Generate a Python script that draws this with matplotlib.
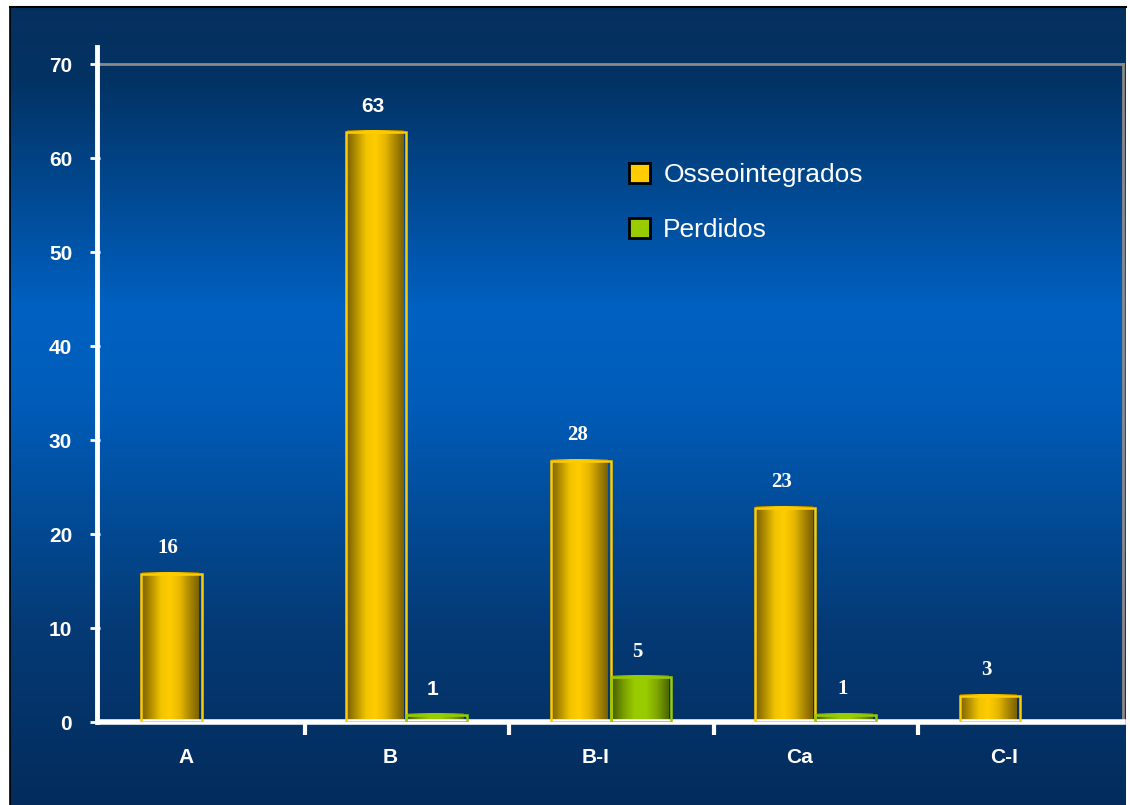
import numpy as np
import matplotlib.pyplot as plt
from matplotlib.colors import LinearSegmentedColormap
from matplotlib.patches import Rectangle, Patch

categories = ['A', 'B', 'B-I', 'Ca', 'C-I']
osseo = [16, 63, 28, 23, 3]
perdidos = [0, 1, 5, 1, 0]
labels = ['Osseointegrados', 'Perdidos']

W, H = 1130, 805
fig = plt.figure(figsize=(W / 100, H / 100), dpi=100)
fig.patch.set_facecolor('white')

# background panel with vertical blue gradient
bg = fig.add_axes([10 / W, 0, 1116 / W, 798 / H])
bg_cmap = LinearSegmentedColormap.from_list(
    'bg', [(0, '#06305e'), (0.09, '#033263'), (0.38, '#0061c2'),
           (0.5, '#005cb8'), (0.78, '#053a75'), (1, '#032c5c')])
bg.imshow(np.linspace(0, 1, 256).reshape(-1, 1), aspect='auto', cmap=bg_cmap,
          extent=[0, 1, 0, 1], origin='upper')
bg.set_xticks([])
bg.set_yticks([])
for s in ['right', 'bottom']:
    bg.spines[s].set_visible(False)
bg.spines['top'].set_color('black')
bg.spines['left'].set_color('black')
bg.spines['top'].set_linewidth(1.5)
bg.spines['left'].set_linewidth(1.2)

ax = fig.add_axes([100 / W, 83 / H, 1023 / W, 658 / H])
ax.set_facecolor('none')

gold = LinearSegmentedColormap.from_list(
    'gold', ['#7d6200', '#b89400', '#f2c400', '#ffcc00', '#e8b800', '#b08c00', '#7d6200'])
green = LinearSegmentedColormap.from_list(
    'green', ['#465f00', '#7a9f00', '#99cc00', '#99cc00', '#7fa600', '#4e6800'])
grad = np.linspace(0, 1, 64).reshape(1, -1)

x = np.arange(len(categories))
bw = 0.295      # slot for one bar (outline)
fill_w = 0.278  # visible cylinder body


def cylinders(xs, vals, cmap, edge):
    bars = ax.bar(xs, vals, fill_w, align='edge', facecolor='none', edgecolor='none')
    for b in bars:
        h = b.get_height()
        if h <= 0:
            continue
        x0 = b.get_x()
        im = ax.imshow(grad, aspect='auto', cmap=cmap,
                       extent=[x0, x0 + fill_w, 0, h], zorder=2)
        im.set_clip_path(b)
        ax.add_patch(Rectangle((x0 - 0.003, 0), bw, h - 0.25, fill=False,
                               edgecolor=edge, lw=1.8, zorder=3))
    return bars


cylinders(x - bw, osseo, gold, '#ffcc00')
cylinders(x, perdidos, green, '#99cc00')
ax.set_xlim(-0.5, len(categories) - 0.5)
ax.set_ylim(0, 70)

# value labels
for i, cat in enumerate(categories):
    fam = 'Liberation Sans' if cat == 'B' else 'Liberation Serif'
    if osseo[i] > 0:
        ax.text(x[i] - bw / 2 - 0.02, osseo[i] + 2.5, str(osseo[i]), ha='center', va='center',
                color='white', fontsize=15, fontweight='bold', family=fam)
    if perdidos[i] > 0:
        ax.text(x[i] + bw / 2 - 0.02, perdidos[i] + 2.5, str(perdidos[i]), ha='center',
                va='center', color='white', fontsize=15, fontweight='bold', family=fam)

# axes styling
ax.spines['top'].set_color('#8a8a8a')
ax.spines['right'].set_color('#8a8a8a')
ax.spines['top'].set_linewidth(2)
ax.spines['right'].set_linewidth(2)
ax.spines['bottom'].set_color('white')
ax.spines['bottom'].set_linewidth(4)
ax.spines['left'].set_visible(False)
ax.plot([-0.003, -0.003], [0, 1.026], transform=ax.transAxes, color='white',
        lw=3.5, clip_on=False, zorder=5)

ax.set_yticks(range(0, 71, 10))
ax.tick_params(axis='y', colors='white', length=7, width=2, pad=13, labelsize=15)
for t in ax.get_yticklabels():
    t.set_fontweight('bold')
    t.set_family('Liberation Sans')

ax.set_xticks(x - 0.08)
ax.set_xticklabels(categories)
ax.tick_params(axis='x', length=0, pad=19, labelsize=15, labelcolor='white')
for t in ax.get_xticklabels():
    t.set_fontweight('bold')
    t.set_family('Liberation Sans')
ax.set_xticks(x[:-1] + 0.5, minor=True)
ax.tick_params(axis='x', which='minor', length=9, width=3, color='white', direction='out')

handles = [Patch(facecolor='#ffcc00', edgecolor='black', lw=2),
           Patch(facecolor='#99cc00', edgecolor='black', lw=2)]
ax.legend(handles, labels, loc='upper left', bbox_to_anchor=(629 / W, 1 - 163 / H),
          bbox_transform=fig.transFigure, frameon=False,
          labelcolor='white', handlelength=0.8, handleheight=0.8,
          handletextpad=0.5, labelspacing=1.15, borderpad=0, borderaxespad=0,
          prop={'family': 'Liberation Sans', 'size': 19})

fig.savefig('out.png', dpi=100)
